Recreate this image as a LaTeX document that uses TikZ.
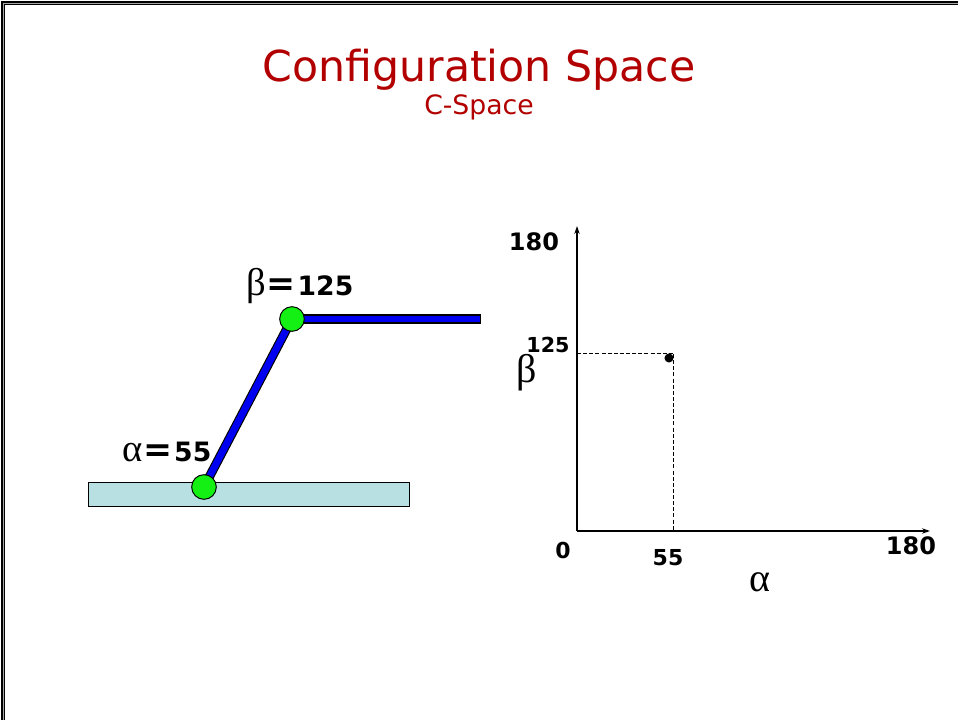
\documentclass[tikz,border=0pt]{standalone}
\usepackage{fontspec}
\setmainfont{DejaVu Sans}
\newfontfamily\grk{Liberation Serif}
\usetikzlibrary{arrows.meta}
\definecolor{titlered}{RGB}{178,0,0}
\definecolor{basefill}{RGB}{184,224,226}
\definecolor{jointgreen}{RGB}{20,240,20}
\definecolor{linkblue}{RGB}{0,0,240}
\tikzset{
  titletext/.style={text=titlered, inner sep=0pt},
  numlbl/.style={inner sep=0pt, font=\bfseries},
  greeklbl/.style={inner sep=0pt, font=\grk},
  joint/.style={circle, draw=black, line width=0.75pt, fill=jointgreen, minimum size=18.5pt, inner sep=0pt},
  linkout/.style={line width=6.9pt, black, line cap=butt},
  linkin/.style={line width=5.2pt, linkblue, line cap=butt},
  axis/.style={line width=1pt, -{Stealth[length=6pt,width=4pt]}},
  guide/.style={line width=0.75pt, dash pattern=on 3pt off 1.6pt},
}
\newcommand{\bigeq}{{\bfseries\fontsize{26}{28}\selectfont\hspace{0.5pt}=\hspace{1.5pt}}}
\begin{document}
\begin{tikzpicture}[x=0.75pt,y=-0.75pt]
\useasboundingbox (0,0) rectangle (958,720);
\fill[white] (0,0) rectangle (958,720);
% slide frame
\draw[line width=2.4pt, black] (3,720) -- (3,3) -- (958,3);
\draw[line width=0.6pt, gray!70] (3,720) -- (3,3) -- (958,3);

% titles
\node[titletext, anchor=base] (title) at (479,82) {\fontsize{32}{38}\selectfont Configuration Space};
\node[titletext, anchor=base] (subtitle) at (479,115) {\fontsize{20}{24}\selectfont C-Space};

% arm
\draw[line width=0.75pt, fill=basefill] (88,483) rectangle (409,507);
\coordinate (j1c) at (204,487);
\coordinate (j2c) at (292,319);
\coordinate (tip) at (481,319);
\draw[linkout] (j1c) -- (j2c);
\draw[linkin] (j1c) -- (j2c);
\draw[linkout] (j2c) -- (tip);
\draw[linkin] ([xshift=-1pt]j2c) -- ([xshift=-0.7pt]tip);
\node[joint] (j1) at (j1c) {};
\node[joint] (j2) at (j2c) {};

\node[anchor=base west, inner sep=0pt] (blabel) at (246,296)
  {{\grk\fontsize{29}{30}\selectfont β}\bigeq{\bfseries\fontsize{20}{22}\selectfont 125}};
\node[anchor=base west, inner sep=0pt] (alabel) at (122,462)
  {{\grk\fontsize{29}{30}\selectfont α}\bigeq{\bfseries\fontsize{20}{22}\selectfont 55}};

% C-space graph
\coordinate (O) at (577,531);
\coordinate (xend) at (930,531);
\coordinate (yend) at (577,226);
\draw[axis] (O) -- (xend);
\draw[axis] (O) -- (yend);
\coordinate (hb) at (577,354);
\coordinate (hc) at (673,354);
\coordinate (vb) at (673,531);
\draw[guide] (hb) -- (hc);
\draw[guide] (hc) -- (vb);
\fill (669,358) circle (3.4pt);

\node[numlbl, font=\bfseries\fontsize{18}{20}\selectfont] (y180) at (534,242) {180};
\node[numlbl, font=\bfseries\fontsize{15.5}{18}\selectfont] (y125) at (548,345) {125};
\node[greeklbl, font=\grk\fontsize{30}{32}\selectfont] (bax) at (527,373) {β};
\node[numlbl, font=\bfseries\fontsize{16.5}{19}\selectfont] (x0) at (563,550) {0};
\node[numlbl, font=\bfseries\fontsize{16.5}{19}\selectfont] (x55) at (668,558) {55};
\node[numlbl, font=\bfseries\fontsize{18}{20}\selectfont] (x180) at (911,546) {180};
\node[greeklbl, font=\grk\fontsize{30}{32}\selectfont] (aax) at (760,582) {α};
\end{tikzpicture}
\end{document}
